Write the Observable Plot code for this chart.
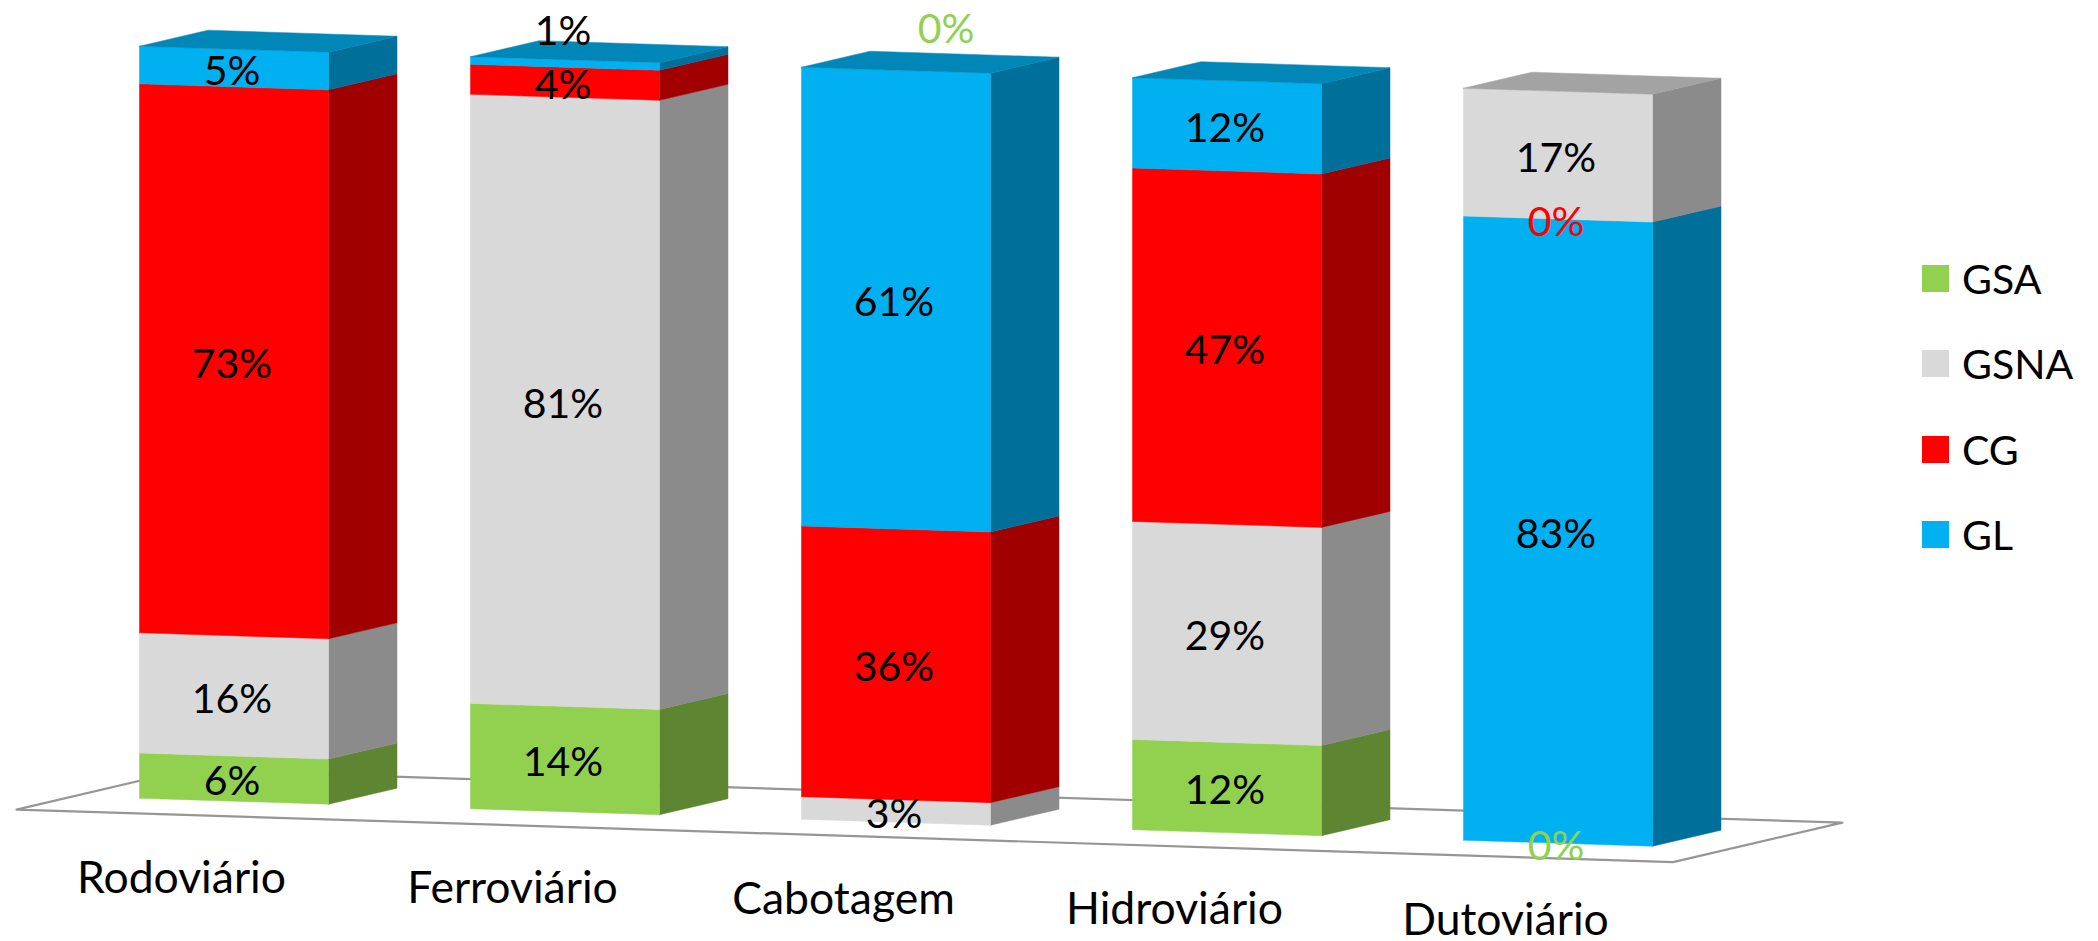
<!DOCTYPE html>
<html lang="pt">
<head>
<meta charset="utf-8">
<script src="https://cdn.jsdelivr.net/npm/d3@7"></script>
<script src="https://cdn.jsdelivr.net/npm/@observablehq/plot@0.6"></script>
<style>
  html, body { margin: 0; padding: 0; background: #fff; }
  #chart { position: relative; width: 2098px; height: 941px; overflow: hidden; font-family: Lato, sans-serif; }
  #chart svg { display: block; }
  #legend { position: absolute; left: 1922px; top: 265px; }
  .key { position: absolute; left: 0; display: flex; align-items: center; height: 27px; white-space: nowrap; font-size: 41px; color: #000; }
  .key i { display: block; width: 27px; height: 27px; margin-right: 13px; flex: none; }
</style>
</head>
<body>
<div id="chart"><div id="legend"></div></div>
<script>
// ---- data ----
const categories = ["Rodoviário", "Ferroviário", "Cabotagem", "Hidroviário", "Dutoviário"];
const seriesNames = ["GSA", "GSNA", "CG", "GL"];
const GSA  = [6, 14, 0, 12, 0];
const GSNA = [16, 81, 3, 29, 17];
const CG   = [73, 4, 36, 47, 0];
const GL   = [5, 1, 61, 12, 83];
const stackOrders = [
  ["GSA", "GSNA", "CG", "GL"],
  ["GSA", "GSNA", "CG", "GL"],
  ["GSNA", "CG", "GL", "GSA"],
  ["GSA", "GSNA", "CG", "GL"],
  ["GSA", "GL", "CG", "GSNA"]
];
const values = {GSA, GSNA, CG, GL};

// ---- styles ----
const frontColor = {GSA: "#92D050", GSNA: "#D9D9D9", CG: "#FF0000", GL: "#00B0F0"};
const sideColor  = {GSA: "#5E8532", GSNA: "#8B8B8B", CG: "#A00000", GL: "#00709A"};
const topColor   = {GSA: "#73A33F", GSNA: "#A3A3A3", CG: "#C40000", GL: "#0087B8"};

// ---- oblique projection of the stacked columns ----
const pitchPx = 331, pctPx = 7.52, originX = 139, originY = 797.7;
const barW = 189 / pitchPx, depthX = 68.5 / pitchPx, depthY = 16 / pctPx, shear = 10.5 / pctPx;
const project = (u, pct, d = 0) => ({x: u + d * depthX, y: pct - shear * u + d * depthY});

const polys = [];
const labels = [];
const poly = (id, color, pts) => {
  [...pts, pts[0]].forEach((p) => polys.push({id, color, x: p.x, y: p.y}));
};
const nudges = {"Ferroviário|GL": {du: 0, dp: 4.65}, "Cabotagem|GSA": {du: 0.157, dp: 6.1}};

categories.forEach((cat, i) => {
  let base = 0, lastNonZero = null;
  stackOrders[i].forEach((s) => {
    const v = values[s][i], top = base + v, id = `${cat}-${s}`;
    if (v > 0) {
      poly(id + "-side", sideColor[s], [project(i + barW, base), project(i + barW, base, 1), project(i + barW, top, 1), project(i + barW, top)]);
      poly(id + "-front", frontColor[s], [project(i, base), project(i + barW, base), project(i + barW, top), project(i, top)]);
      lastNonZero = s;
    }
    const n = nudges[`${cat}|${s}`] || {du: 0, dp: 0};
    const c = project(i + barW / 2 + n.du, (base + top) / 2 + n.dp);
    labels.push({x: c.x, y: c.y, text: `${v}%`, color: v > 0 ? "#000000" : frontColor[s]});
    base = top;
  });
  poly(`${cat}-top`, topColor[lastNonZero], [project(i, 100), project(i + barW, 100), project(i + barW, 100, 1), project(i, 100, 1)]);
});

// floor plane
const floorDepth = 2.47, floorPct = -2.03;
const floorFrontL = -123 / pitchPx, floorFrontR = (1672.6 - originX) / pitchPx;
const floor = [
  project(floorFrontL, floorPct), project(floorFrontR, floorPct),
  project(floorFrontR, floorPct, floorDepth), project(floorFrontL, floorPct, floorDepth),
  project(floorFrontL, floorPct)
];

// category labels, lying along the floor's front edge
const catLabels = categories.map((text, i) => ({text, ...project(i + barW / 2 - 52.5 / pitchPx, -10.5)}));

const chart = Plot.plot({
  width: 2098,
  height: 941,
  margin: 0,
  x: {axis: null, domain: [-originX / pitchPx, (2098 - originX) / pitchPx], range: [0, 2098]},
  y: {axis: null, domain: [(originY - 941) / pctPx, originY / pctPx], range: [941, 0]},
  color: {type: "identity"},
  style: {background: "#fff", fontFamily: "Lato, sans-serif"},
  marks: [
    Plot.line(floor, {x: "x", y: "y", stroke: "#969696", strokeWidth: 2.2}),
    Plot.line(polys, {x: "x", y: "y", z: "id", fill: "color", stroke: "color", strokeWidth: 0.5}),
    Plot.text(labels, {x: "x", y: "y", text: "text", fill: "color", fontSize: 41, dx: -2, dy: 3.5}),
    Plot.text(catLabels, {x: "x", y: "y", text: "text", fill: "#000", fontSize: 44.5})
  ]
});
document.getElementById("chart").prepend(chart);

// legend
const legend = document.getElementById("legend");
const keyStep = 85.3;
seriesNames.forEach((s, i) => {
  const k = document.createElement("div");
  k.className = "key";
  k.style.top = `${i * keyStep}px`;
  const sw = document.createElement("i");
  sw.style.background = frontColor[s];
  k.append(sw, s);
  legend.append(k);
});
</script>
</body>
</html>
